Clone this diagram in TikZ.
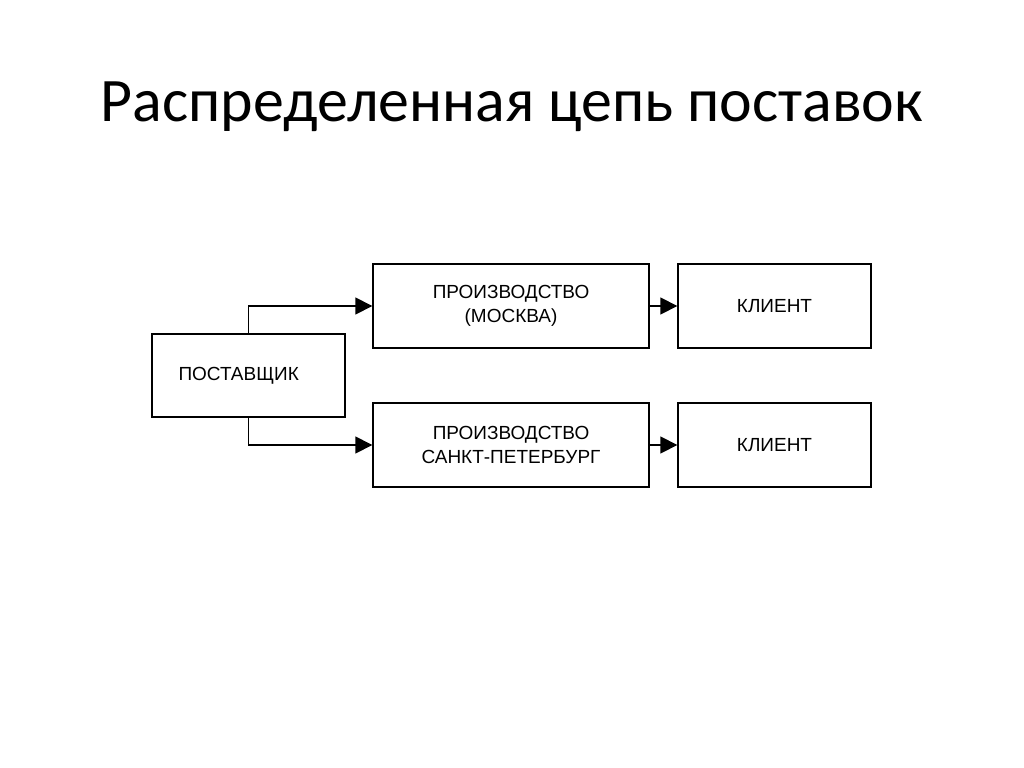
\documentclass[tikz,border=0pt]{standalone}
\usepackage{fontspec}
\setmainfont{Carlito}
\newfontfamily\boxfont{Liberation Sans}
\usetikzlibrary{arrows.meta}
\usetikzlibrary{positioning}

\tikzset{
  blk/.style={draw,line width=.9pt,inner sep=0pt,font=\boxfont\fontsize{13.5}{17.5}\selectfont,align=center},
  arr/.style={line width=.9pt,-{Triangle[length=12pt,width=12pt]}}
}

\begin{document}
\begin{tikzpicture}[x=0.025cm,y=-0.025cm]
\useasboundingbox (0,0) rectangle (1024,768);
\node[anchor=base,font=\fontsize{44}{54}\selectfont] (title) at (512,122) {Распределенная цепь поставок};
% boxes
\node[blk,minimum width=4.825cm,minimum height=2.075cm] (post) at (248.5,375.5) {\hspace*{-14pt}ПОСТАВЩИК};
\node[blk,minimum width=6.9cm,minimum height=2.1cm] (msk) at (511,306) {ПРОИЗВОДСТВО\\(МОСКВА)};
\node[blk,minimum width=6.9cm,minimum height=2.1cm] (spb) at (511,445) {ПРОИЗВОДСТВО\\САНКТ-ПЕТЕРБУРГ};
\node[blk,minimum width=4.825cm,minimum height=2.1cm] (kl1) at (774.5,306) {КЛИЕНТ};
\node[blk,minimum width=4.825cm,minimum height=2.1cm] (kl2) at (774.5,445) {КЛИЕНТ};
% arrows
\draw[arr] (post.north) |- (msk.west);
\draw[arr] (post.south) |- (spb.west);
\draw[arr] (msk) -- (kl1);
\draw[arr] (spb) -- (kl2);
\end{tikzpicture}
\end{document}
